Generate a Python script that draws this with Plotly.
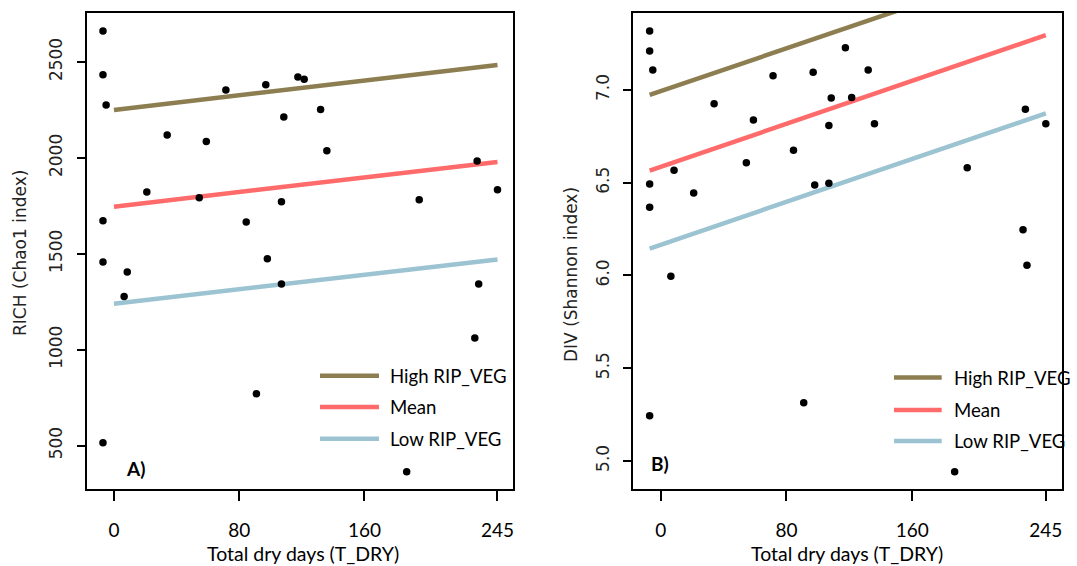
import plotly.graph_objects as go

# ---------------- data ----------------
t_dry = [-7, -7, -7, -7, -7, -5, 6.5, 8.5, 21, 34, 54.5, 59, 71.5, 84.5, 91, 97, 98,
         107, 107, 108.5, 117.5, 121.5, 132, 136, 187, 195, 230.5, 232, 233, 245]
rich = [2662, 2434, 1673, 1457, 515, 2276, 1278, 1405, 1822, 2119, 1793, 2085, 2354, 1666, 771,
        2382, 1474, 1772, 1343, 2213, 2422, 2410, 2253, 2038, 364, 1782, 1061, 1984, 1343, 1834]
div = [7.318, 7.210, 6.493, 6.368, 5.243, 7.108, 5.996, 6.567, 6.445, 6.926, 6.608, 6.838, 7.077,
       6.675, 5.314, 7.095, 6.488, 6.808, 6.497, 6.957, 7.228, 6.959, 7.108, 6.818, 4.941, 6.580,
       6.247, 6.896, 6.055, 6.818]

series_names = ["High RIP_VEG", "Mean", "Low RIP_VEG"]
series_colors = ["#8C7E50", "#FF6B6B", "#9CC3D1"]

# fitted lines (start/end x and y)
rich_fit_x = [0, 245]
rich_fit = {"High RIP_VEG": [2250, 2484], "Mean": [1746, 1979], "Low RIP_VEG": [1240, 1471]}
div_fit_x = [-7, 245]
div_fit = {"High RIP_VEG": [6.973, 7.70], "Mean": [6.565, 7.296], "Low RIP_VEG": [6.145, 6.874]}

x_ticks = [0, 80, 160, 245]
rich_ticks = [500, 1000, 1500, 2000, 2500]
div_ticks = [5.0, 5.5, 6.0, 6.5, 7.0]

W, H = 1077, 566
TXT = "Lato"
TICKF = "DejaVu Sans"


def px(x):
    return x / W


def py(y):
    return 1 - y / H


fig = go.Figure()

for name, col in zip(series_names, series_colors):
    fig.add_trace(go.Scatter(x=rich_fit_x, y=rich_fit[name], mode="lines",
                             line=dict(color=col, width=4.5), showlegend=False,
                             xaxis="x", yaxis="y", name=name))
    fig.add_trace(go.Scatter(x=div_fit_x, y=div_fit[name], mode="lines",
                             line=dict(color=col, width=4.5), showlegend=False,
                             xaxis="x2", yaxis="y2", name=name))

fig.add_trace(go.Scatter(x=t_dry, y=rich, mode="markers", marker=dict(color="black", size=7.5),
                         showlegend=False, xaxis="x", yaxis="y", cliponaxis=False))
fig.add_trace(go.Scatter(x=t_dry, y=div, mode="markers", marker=dict(color="black", size=7.5),
                         showlegend=False, xaxis="x2", yaxis="y2", cliponaxis=False))

xcommon = dict(showgrid=False, zeroline=False, showline=True, linecolor="black", linewidth=1.8,
               mirror=True, ticks="outside", ticklen=10, tickwidth=1.5, tickcolor="black",
               tickvals=x_ticks, ticktext=[str(v) for v in x_ticks],
               tickfont=dict(family=TXT, size=19, color="black"), ticklabelstandoff=13,
               range=[-17.4, 255.1])
ycommon = dict(showgrid=False, zeroline=False, showline=True, linecolor="black", linewidth=1.8,
               mirror=True, ticks="outside", ticklen=8, tickwidth=1.5, tickcolor="black",
               tickangle=-90, tickfont=dict(family=TICKF, size=17, color="#222"),
               ticklabelstandoff=8)

A_l, A_r, B_l, B_r = 86.7, 513.3, 633.3, 1061.7
top, bot = 13, 489.3

fig.update_layout(
    width=W, height=H, margin=dict(l=0, r=0, t=0, b=0),
    paper_bgcolor="white", plot_bgcolor="white", showlegend=False,
    xaxis=dict(domain=[px(A_l), px(A_r)], anchor="y", **xcommon),
    yaxis=dict(domain=[py(bot), py(top)], anchor="x", range=[272.7, 2755.4],
               tickvals=rich_ticks, ticktext=[str(v) for v in rich_ticks], **ycommon),
    xaxis2=dict(domain=[px(B_l), px(B_r)], anchor="y2", **xcommon),
    yaxis2=dict(domain=[py(bot), py(top)], anchor="x2", range=[4.847, 7.415],
                tickvals=div_ticks, ticktext=[f"{v:.1f}" for v in div_ticks], **ycommon),
)

ann = []
shapes = []
# axis titles
for cx, cy in [(303, 553), (847, 553)]:
    ann.append(dict(x=px(cx), y=py(cy), xref="paper", yref="paper", text="Total dry days (T_DRY)",
                    showarrow=False, font=dict(family=TXT, size=19.5, color="black"),
                    xanchor="center", yanchor="middle"))
ann.append(dict(x=px(20), y=py(253), xref="paper", yref="paper", text="RICH (Chao1 index)",
                textangle=-90, showarrow=False, font=dict(family=TICKF, size=17, color="#222"),
                xanchor="center", yanchor="middle"))
ann.append(dict(x=px(571), y=py(275), xref="paper", yref="paper", text="DIV (Shannon index)",
                textangle=-90, showarrow=False, font=dict(family=TICKF, size=17, color="#222"),
                xanchor="center", yanchor="middle"))
# panel labels
ann.append(dict(x=px(124), y=py(468), xref="paper", yref="paper", text="<b>A)</b>",
                showarrow=False, font=dict(family=TXT, size=19, color="black"),
                xanchor="left", yanchor="middle"))
ann.append(dict(x=px(649), y=py(463), xref="paper", yref="paper", text="<b>B)</b>",
                showarrow=False, font=dict(family=TXT, size=19, color="black"),
                xanchor="left", yanchor="middle"))

# hand-drawn legends
legA = dict(x0=320, x1=379, tx=387.7, ys=[375.7, 407, 438.7])
legB = dict(x0=894, x1=941.7, tx=951.7, ys=[377.5, 410, 441])
for leg in [legA, legB]:
    for name, col, yy in zip(series_names, series_colors, leg["ys"]):
        shapes.append(dict(type="line", xref="paper", yref="paper", x0=px(leg["x0"]), x1=px(leg["x1"]),
                           y0=py(yy), y1=py(yy), line=dict(color=col, width=4.5)))
        ann.append(dict(x=px(leg["tx"]), y=py(yy), xref="paper", yref="paper", text=name,
                        showarrow=False, font=dict(family=TXT, size=18.6, color="black"),
                        xanchor="left", yanchor="middle"))

fig.update_layout(annotations=ann, shapes=shapes)
fig.write_html("out.html")
